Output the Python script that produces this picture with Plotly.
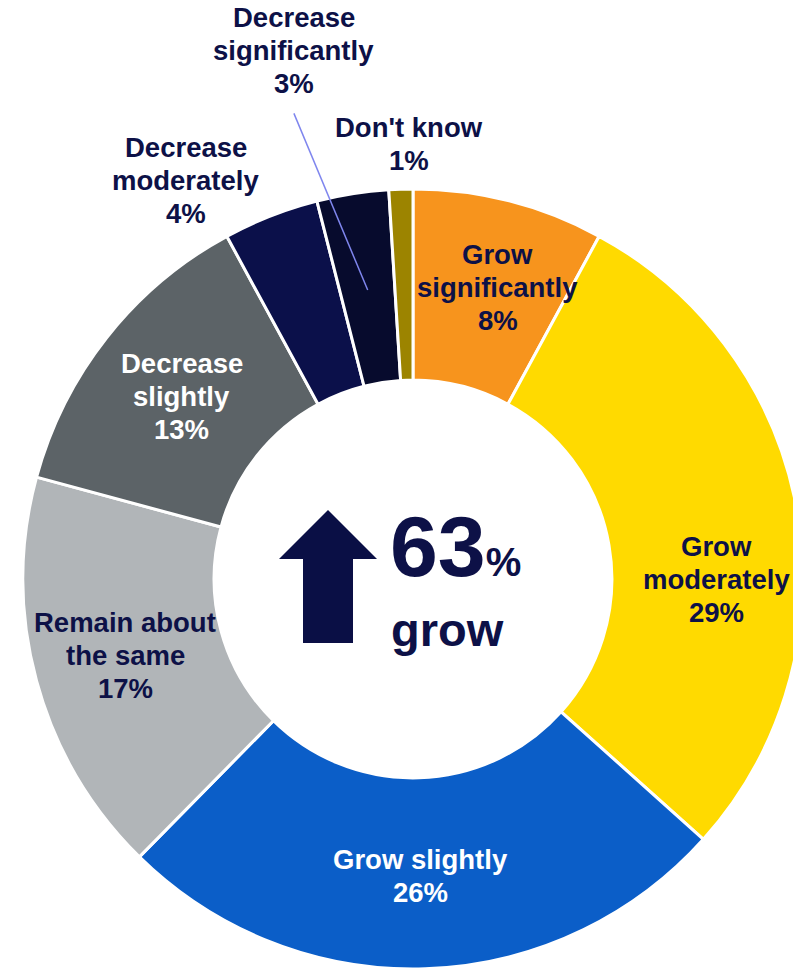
import math
import plotly.graph_objects as go

# ---- data -------------------------------------------------------------
labels = [
    "Grow significantly",
    "Grow moderately",
    "Grow slightly",
    "Remain about the same",
    "Decrease slightly",
    "Decrease moderately",
    "Decrease significantly",
    "Don't know",
]
values = [8, 29, 26, 17, 13, 4, 3, 1]
# how each category name is broken over lines in its label
label_lines = [
    ["Grow", "significantly"],
    ["Grow", "moderately"],
    ["Grow slightly"],
    ["Remain about", "the same"],
    ["Decrease", "slightly"],
    ["Decrease", "moderately"],
    ["Decrease", "significantly"],
    ["Don't know"],
]
grow_share = sum(values[:3])

# ---- styling ----------------------------------------------------------
colors = ["#F7941D", "#FFDA00", "#0B5EC8", "#B1B5B8",
          "#5C6367", "#0B104A", "#070B2D", "#9C8400"]
NAVY = "#0D1147"
text_colors = [NAVY, NAVY, "#FFFFFF", NAVY, "#FFFFFF", NAVY, NAVY, NAVY]
FONT = "Liberation Sans, Arial, Helvetica, sans-serif"

W, H = 820, 969
CX, CY, R = 413, 579, 390          # donut centre and radius in pixels
HOLE = 0.51
LINE_GAP = 33                      # label line spacing, px
LABEL_SIZE = 27.5
# label placement: radius from centre along the slice mid-angle, then a nudge
label_place = [
    (295, 12, -6),
    (295, 13, 51),
    (295, -2, 2),
    (295, -3, -1),
    (295, 0, 0),
    (459, -60, 29),
    (530, -37, -5),
    (435, 10, 0),
]


def px(x):
    return x / W


def py(y):
    return 1 - y / H


def polar(theta_deg, rho):
    t = math.radians(theta_deg)
    return CX + rho * math.sin(t), CY - rho * math.cos(t)


total = sum(values)
mid_angles = []
acc = 0
for v in values:
    mid_angles.append((acc + v / 2) / total * 360)
    acc += v

fig = go.Figure(
    go.Pie(
        labels=labels,
        values=values,
        hole=HOLE,
        sort=False,
        direction="clockwise",
        rotation=0,
        marker=dict(colors=colors, line=dict(color="#FFFFFF", width=3)),
        textinfo="none",
        hovertemplate="%{label}: %{value}%<extra></extra>",
        showlegend=False,
        domain=dict(x=[px(CX - R), px(CX + R)], y=[py(CY + R), py(CY - R)]),
    )
)

annotations = []
block_centres = []
for i, (name_lines, v) in enumerate(zip(label_lines, values)):
    rho, dx, dy = label_place[i]
    bx, by = polar(mid_angles[i], rho)
    bx, by = bx + dx, by + dy
    block_centres.append((bx, by))
    lines = name_lines + [f"{v}%"]
    n = len(lines)
    for j, line in enumerate(lines):
        ly = by + (j - (n - 1) / 2) * LINE_GAP
        annotations.append(dict(
            x=px(bx), y=py(ly), xref="paper", yref="paper",
            text=line, showarrow=False, xanchor="center", yanchor="middle",
            font=dict(family=FONT, size=LABEL_SIZE, color=text_colors[i],
                      weight="bold"),
        ))

# centre headline
annotations.append(dict(
    x=px(388), y=py(596), xref="paper", yref="paper",
    text=f"{grow_share}<span style='font-size:40px'>%</span>",
    showarrow=False, xanchor="left", yanchor="bottom",
    font=dict(family=FONT, size=86, color=NAVY, weight="bold"),
))
annotations.append(dict(
    x=px(389), y=py(629), xref="paper", yref="paper",
    text="grow", showarrow=False, xanchor="left", yanchor="middle",
    font=dict(family=FONT, size=47, color=NAVY, weight="bold"),
))

shapes = []
# up arrow beside the headline
arrow_pts = [(328, 510), (377, 559), (353, 559), (353, 643),
             (303, 643), (303, 559), (279, 559)]
path = "M " + " L ".join(f"{px(x)},{py(y)}" for x, y in arrow_pts) + " Z"
shapes.append(dict(type="path", path=path, xref="paper", yref="paper",
                   fillcolor="#0A0F45", line=dict(width=0)))

# leader line for the thin "Decrease significantly" slice
k = labels.index("Decrease significantly")
sx, sy = block_centres[k]
ex, ey = polar(mid_angles[k], R * (1 + HOLE) / 2 - 2)
shapes.append(dict(type="line", xref="paper", yref="paper",
                   x0=px(sx), y0=py(sy + 63), x1=px(ex), y1=py(ey),
                   line=dict(color="#7F86EE", width=1.5)))

fig.update_layout(
    width=W, height=H,
    margin=dict(l=0, r=0, t=0, b=0),
    paper_bgcolor="#FFFFFF",
    plot_bgcolor="#FFFFFF",
    annotations=annotations,
    shapes=shapes,
)

fig.write_html("out.html", post_script="document.body.style.overflow='hidden';")
